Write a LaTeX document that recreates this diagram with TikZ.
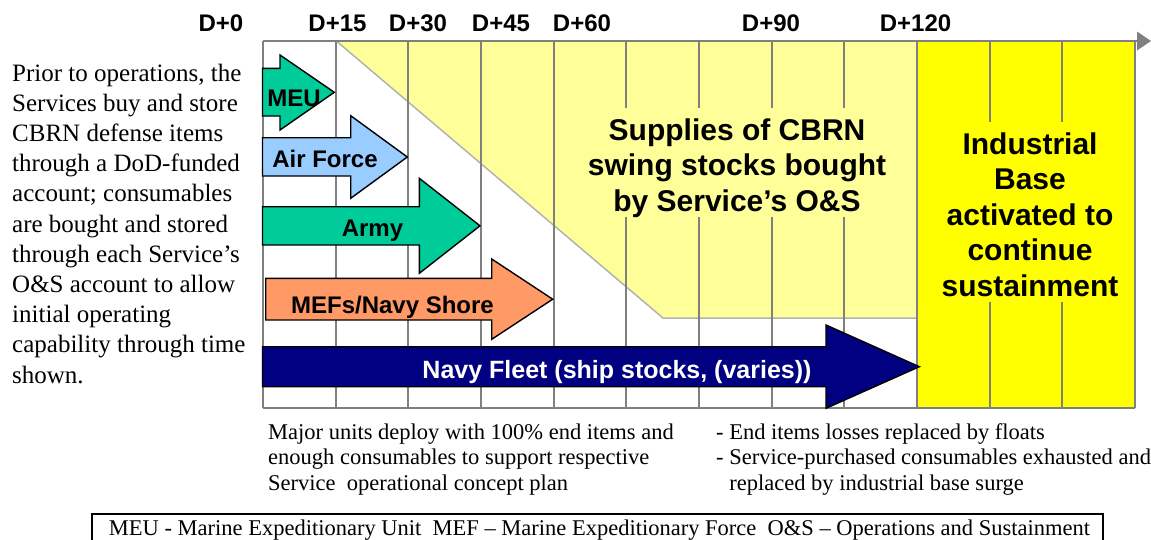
\documentclass[tikz,border=0pt]{standalone}
\usepackage{fontspec}
\setmainfont{Liberation Serif}
\setsansfont{Liberation Sans}
\definecolor{gridgray}{RGB}{128,128,128}
\definecolor{edgegray}{RGB}{178,178,178}
\definecolor{lightyel}{RGB}{255,255,153}
\definecolor{brightyel}{RGB}{255,255,0}
\definecolor{armygreen}{RGB}{0,204,153}
\definecolor{skyb}{RGB}{153,204,255}
\definecolor{orng}{RGB}{255,153,102}
\definecolor{navyb}{RGB}{0,0,128}
\begin{document}
\begin{tikzpicture}[x=1pt,y=-1pt,
  gridline/.style={draw=gridgray, line width=2pt},
  arrowbox/.style={draw=black, line width=1.4pt, line join=miter},
  lab/.style={font=\sffamily\bfseries\fontsize{24}{28}\selectfont, inner sep=0pt, anchor=base},
  big/.style={font=\sffamily\bfseries\fontsize{30}{35.5}\selectfont, align=center, inner sep=0pt, anchor=base},
  note/.style={font=\fontsize{22.5}{25.5}\selectfont, align=left, inner sep=0pt, anchor=base west}]
\useasboundingbox (0,0) rectangle (1151,539);
\clip (0,0) rectangle (1151,539);
\fill[white] (0,0) rectangle (1151,539);

% light yellow swing-stock region
\fill[lightyel] (336.5,41) -- (663,318) -- (917,318) -- (917,41) -- cycle;
\draw[edgegray, line width=1.5pt] (337.5,42) -- (663,318) -- (917,318);
% bright yellow industrial base region
\fill[brightyel] (917,41) rectangle (1135,408);

% grid
\foreach \i in {0,...,12} {
  \draw[gridline] ({263+72.667*\i},41) -- ({263+72.667*\i},408);
}
\draw[gridline] (263,408) -- (1135,408);
\draw[gridline] (263,41) -- (1140,41);
\fill[gridgray] (1137,31.5) -- (1151,41) -- (1137,50.5) -- cycle;

% text backgrounds that hide grid lines
\fill[lightyel] (585,108) rectangle (890,217);
\fill[brightyel] (940,122) rectangle (1120,302);

% axis labels
\node[lab] (d0)   at (221,31.7)   {D+0};
\node[lab] (d15)  at (337.5,31.7) {D+15};
\node[lab] (d30)  at (418,31.7)   {D+30};
\node[lab] (d45)  at (501,31.7)   {D+45};
\node[lab] (d60)  at (582,31.7)   {D+60};
\node[lab] (d90)  at (771,31.7)   {D+90};
\node[lab] (d120) at (915.5,31.7) {D+120};

% arrows
\draw[arrowbox, fill=armygreen] (262.5,68.3) -- (280,68.3) -- (280,55) -- (334.3,92.3) -- (280,130) -- (280,116) -- (262.5,116) -- cycle;
\node[lab] (meu) at (294,106.7) {MEU};

\draw[arrowbox, fill=skyb] (262.5,137.7) -- (350.7,137.7) -- (350.7,115.7) -- (407.3,157) -- (350.7,198.3) -- (350.7,176) -- (262.5,176) -- cycle;
\node[lab] (af) at (325,167.7) {Air Force};

\draw[arrowbox, fill=armygreen] (262.5,206.7) -- (419.3,206.7) -- (419.3,178.3) -- (480,225.8) -- (419.3,273.3) -- (419.3,245) -- (262.5,245) -- cycle;
\node[lab] (army) at (372.5,236.7) {Army};

\draw[arrowbox, fill=orng] (265.7,278.3) -- (491.7,278.3) -- (491.7,259) -- (552.7,299.2) -- (491.7,339.3) -- (491.7,320) -- (265.7,320) -- cycle;
\node[lab] (mef) at (392.5,313.3) {MEFs/Navy Shore};

\draw[arrowbox, fill=navyb] (262.5,346.7) -- (826,346.7) -- (826,325) -- (919.3,366.7) -- (826,408.3) -- (826,386.7) -- (262.5,386.7) -- cycle;
\node[lab, font=\sffamily\bfseries\fontsize{25}{29}\selectfont, text=white] (navy) at (617,378.3) {Navy Fleet (ship stocks, (varies))};

% region texts (anchor = baseline of the last line)
\node[big] (swing) at (737,211) {Supplies of CBRN\\swing stocks bought\\by Service’s O\&S};
\node[big] (ind) at (1030,296) {Industrial\\Base\\activated to\\continue\\sustainment};

% left explanation
\node[font=\fontsize{25}{30.2}\selectfont, align=left, inner sep=0pt, anchor=base west] (intro) at (12,383)
  {Prior to operations, the\\Services buy and store\\CBRN defense items\\through a DoD-funded\\account; consumables\\are bought and stored\\through each Service’s\\O\&S account to allow\\initial operating\\capability through time\\shown.};

% bottom notes
\node[note] (deploy) at (268,490) {Major units deploy with 100\% end items and\\enough consumables to support respective\\Service\ \ operational concept plan};
\node[note] (losses) at (716,490) {- End items losses replaced by floats\\- Service-purchased consumables exhausted and\\\phantom{- }replaced by industrial base surge};

% legend
\draw[black, line width=1.3pt] (92,514) rectangle (1103,570);
\node[font=\fontsize{22.5}{25}\selectfont, inner sep=0pt, anchor=base] (legend) at (599.5,535)
  {MEU - Marine Expeditionary Unit\ \ MEF – Marine Expeditionary Force\ \ O\&S – Operations and Sustainment};
\end{tikzpicture}
\end{document}
